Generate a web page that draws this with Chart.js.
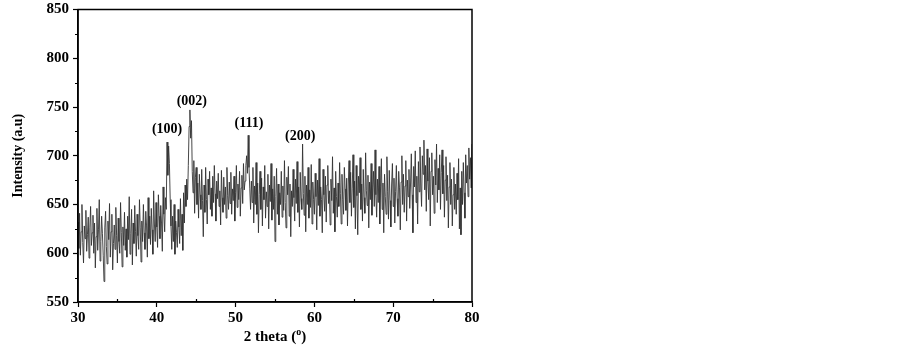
<!DOCTYPE html>
<html>
<head>
<meta charset="utf-8">
<script src="https://cdn.jsdelivr.net/npm/chart.js@4.4.1/dist/chart.umd.min.js"></script>
<style>
  body { margin: 0; background: #fff; }
  #wrap { width: 903px; height: 355px; }
</style>
</head>
<body>
<div id="wrap"><canvas id="xrdChart" width="903" height="355"></canvas></div>
<script>
const ctxXrd = document.getElementById("xrdChart");

// scan grid: 30 -> 80 deg, 0.1 deg step
const thetaStart = 30;
const thetaStep = 0.1;

// intensity, one row per 2 degrees
const intensity = [
  632, 605, 641, 598, 622, 650, 611, 590, 628, 615, 644, 602, 619, 637, 595, 626, 648, 608, 621, 639,
  600, 631, 585, 617, 646, 603, 624, 655, 592, 612, 638, 620, 598, 571, 626, 643, 607, 589, 633, 614,
  651, 596, 622, 640, 583, 610, 629, 604, 647, 618, 590, 636, 612, 600, 652, 621, 586, 627, 608, 642,
  603, 625, 596, 638, 614, 658, 599, 620, 645, 588, 631, 610, 649, 622, 597, 640, 618, 604, 655, 626,
  591, 633, 612, 650, 621, 604, 643, 628, 596, 657, 615, 638, 609, 646, 624, 599, 664, 630, 612, 652,
  627, 606, 660, 638, 615, 649, 631, 602, 668, 640, 622, 657, 645, 714, 680, 710, 692, 655, 628, 604,
  638, 612, 650, 599, 633, 621, 606, 645, 627, 610, 656, 618, 640, 603, 662, 631, 670, 648, 676, 655,
  690, 730, 747, 718, 736, 684, 662, 695, 641, 678, 688, 650, 672, 636, 681, 660, 645, 686, 654, 617,
  670, 642, 688, 655, 630, 676, 660, 684, 645, 667, 638, 679, 652, 690, 661, 633, 674, 656, 682, 648,
  664, 629, 685, 657, 642, 678, 650, 668, 636, 688, 659, 645, 673, 651, 683, 640, 666, 654, 679, 633,
  662, 690, 647, 671, 655, 684, 638, 667, 680, 651, 692, 665, 674, 690, 700, 682, 721, 688, 666, 645,
  674, 652, 688, 631, 669, 650, 693, 640, 672, 621, 660, 684, 645, 677, 628, 668, 655, 690, 636, 663,
  648, 681, 625, 670, 653, 692, 634, 666, 645, 679, 612, 658, 687, 640, 671, 629, 662, 650, 684, 637,
  669, 644, 695, 652, 626, 678, 660, 689, 638, 671, 617, 664, 648, 686, 657, 633, 676, 651, 694, 642,
  668, 627, 683, 656, 645, 712, 661, 639, 679, 622, 670, 650, 688, 636, 665, 647, 691, 630, 673, 655,
  640, 682, 658, 624, 675, 649, 697, 638, 668, 655, 621, 686, 660, 643, 679, 632, 670, 690, 651, 664,
  629, 676, 654, 699, 641, 667, 622, 684, 658, 637, 672, 648, 693, 661, 630, 681, 655, 640, 688, 666,
  644, 677, 628, 670, 695, 652, 683, 638, 666, 701, 647, 674, 625, 690, 659, 619, 679, 662, 698, 645,
  671, 633, 686, 657, 641, 703, 664, 649, 680, 626, 673, 655, 692, 639, 667, 684, 648, 706, 660, 637,
  676, 652, 689, 630, 668, 697, 645, 672, 621, 681, 658, 640, 699, 663, 635, 685, 654, 627, 670, 692,
  648, 677, 631, 663, 690, 656, 638, 684, 667, 624, 673, 700, 650, 681, 642, 669, 695, 633, 675, 658,
  686, 646, 671, 702, 660, 621, 689, 668, 705, 652, 679, 630, 694, 663, 709, 672, 648, 700, 681, 716,
  665, 690, 643, 707, 674, 655, 698, 628, 684, 703, 660, 679, 641, 696, 670, 712, 652, 687, 665, 701,
  645, 683, 706, 661, 690, 637, 675, 699, 654, 680, 626, 668, 693, 650, 676, 628, 660, 688, 645, 671,
  640, 682, 655, 697, 625, 667, 619, 684, 650, 693, 662, 636, 701, 672, 690, 658, 708, 676, 698, 667,
  712,
];

const xTicks = [30, 40, 50, 60, 70, 80];
const yTicks = [550, 600, 650, 700, 750, 800, 850];

// peak labels (hkl) and where they sit
const peakLabels = ["(100)", "(002)", "(111)", "(200)"];
const peakX = [41.3, 44.45, 51.7, 58.2];
const peakY = [727, 756, 733, 720];

const serif = "'Liberation Serif', 'Times New Roman', serif";

const frameAndLabels = {
  id: "frameAndLabels",
  afterDraw(chart) {
    const { ctx, chartArea: a, scales } = chart;
    const xs = scales.x;
    const ys = scales.y;
    ctx.save();
    // box
    ctx.strokeStyle = "#000";
    ctx.lineWidth = 1.5;
    ctx.strokeRect(a.left, a.top, a.right - a.left, a.bottom - a.top);

    // minor ticks
    ctx.lineWidth = 1.2;
    ctx.beginPath();
    for (let v = 575; v < 850; v += 50) {
      const py = Math.round(ys.getPixelForValue(v)) + 0.5;
      ctx.moveTo(a.left - 3, py);
      ctx.lineTo(a.left, py);
    }
    for (let v = 35; v < 80; v += 10) {
      const px = Math.round(xs.getPixelForValue(v)) + 0.5;
      ctx.moveTo(px, a.bottom);
      ctx.lineTo(px, a.bottom - 3);
    }
    ctx.stroke();

    // peak labels
    ctx.fillStyle = "#000";
    ctx.font = "bold 14px " + serif;
    ctx.textAlign = "center";
    ctx.textBaseline = "middle";
    peakLabels.forEach((t, i) => {
      ctx.fillText(t, xs.getPixelForValue(peakX[i]), ys.getPixelForValue(peakY[i]));
    });

    // x title with superscript o
    const cx = (a.left + a.right) / 2;
    const ty = 337;
    ctx.font = "bold 15px " + serif;
    const p1 = "2 theta (";
    const p3 = ")";
    ctx.textAlign = "left";
    const w1 = ctx.measureText(p1).width;
    const w3 = ctx.measureText(p3).width;
    ctx.font = "bold 10px " + serif;
    const w2 = ctx.measureText("o").width;
    let x0 = cx - (w1 + w2 + w3) / 2;
    ctx.font = "bold 15px " + serif;
    ctx.fillText(p1, x0, ty);
    ctx.font = "bold 10px " + serif;
    ctx.fillText("o", x0 + w1, ty - 5);
    ctx.font = "bold 15px " + serif;
    ctx.fillText(p3, x0 + w1 + w2, ty);
    ctx.restore();
  },
};

new Chart(ctxXrd, {
  type: "line",
  data: {
    datasets: [
      {
        label: "XRD",
        data: intensity.map((v, i) => ({ x: thetaStart + i * thetaStep, y: v })),
        borderColor: "#333333",
        borderWidth: 0.9,
        pointRadius: 0,
        tension: 0,
      },
    ],
  },
  options: {
    responsive: false,
    animation: false,
    layout: {
      padding: { left: 0, top: 0, right: 431, bottom: 0 },
    },
    plugins: {
      legend: { display: false },
      tooltip: { enabled: false },
    },
    scales: {
      x: {
        type: "linear",
        min: 30,
        max: 80,
        afterBuildTicks: (s) => { s.ticks = xTicks.map((v) => ({ value: v })); },
        afterFit: (s) => { s.height = 53; },
        ticks: {
          color: "#000",
          font: { family: serif, size: 15, weight: "bold" },
          padding: 2,
          maxRotation: 0,
        },
        grid: { drawOnChartArea: false, color: "#000", tickLength: 5, tickWidth: 1.2 },
        border: { color: "#000", width: 1.5 },
      },
      y: {
        min: 550,
        max: 850,
        afterBuildTicks: (s) => { s.ticks = yTicks.map((v) => ({ value: v })); },
        afterFit: (s) => { s.width = 78; s.paddingTop = 9.5; s.paddingBottom = 0; },
        ticks: {
          color: "#000",
          font: { family: serif, size: 15, weight: "bold" },
          padding: 4,
        },
        grid: { drawOnChartArea: false, color: "#000", tickLength: 5, tickWidth: 1.2 },
        border: { color: "#000", width: 1.5 },
        title: {
          display: true,
          text: "Intensity (a.u)",
          color: "#000",
          font: { family: serif, size: 14, weight: "bold" },
          padding: { top: 10, bottom: 0 },
        },
      },
    },
  },
  plugins: [frameAndLabels],
});
</script>
</body>
</html>
